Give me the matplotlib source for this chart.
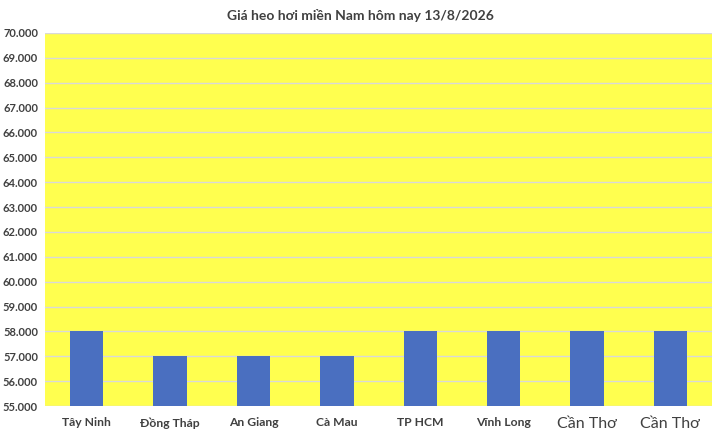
import matplotlib
matplotlib.use("Agg")
import matplotlib.pyplot as plt
from matplotlib.ticker import FuncFormatter, MultipleLocator

categories = ["Tây Ninh", "Đồng Tháp", "An Giang", "Cà Mau", "TP HCM", "Vĩnh Long", "Cần Thơ", "Cần Thơ"]
prices = [58000, 57000, 57000, 57000, 58000, 58000, 58000, 58000]
title = "Giá heo hơi miền Nam hôm nay 13/8/2026"

plt.rcParams['font.family'] = ['Lato', 'DejaVu Sans']
fig = plt.figure(figsize=(7.2, 4.34), dpi=100)
ax = fig.add_axes([0.0625, 0.0645, 0.9265, 0.8595])
ax.set_facecolor('#FFFF4F')
x = list(range(len(categories)))
ax.bar(x, prices, width=0.4, color='#4A6FC0', zorder=3)
ax.set_ylim(55000, 70000)
ax.set_xlim(-0.5, len(categories) - 0.5)
ax.yaxis.set_major_locator(MultipleLocator(1000))
ax.yaxis.set_major_formatter(FuncFormatter(lambda v, p: f"{int(v):,}".replace(",", ".")))
ax.grid(axis='y', color='#D9D9D9', linewidth=1, zorder=0)
for s in ax.spines.values():
    s.set_visible(False)
ax.tick_params(length=0)
ax.tick_params(axis='y', labelsize=8, labelcolor='#404040', pad=5)
ax.set_xticks(x)
ax.set_xticklabels(categories)
for i, lab in enumerate(ax.get_xticklabels()):
    lab.set_color('#404040')
    if i >= 6:
        lab.set_fontsize(11.5)
    else:
        lab.set_fontsize(8.7)
        lab.set_fontweight('bold')
for lab in ax.get_yticklabels():
    lab.set_fontweight('bold')
ax.tick_params(axis='x', pad=8)
fig.text(0.5, 0.965, title, ha='center', va='center', fontsize=10, fontweight='bold', color='#404040')
fig.savefig("out.png", dpi=100, facecolor='white')
